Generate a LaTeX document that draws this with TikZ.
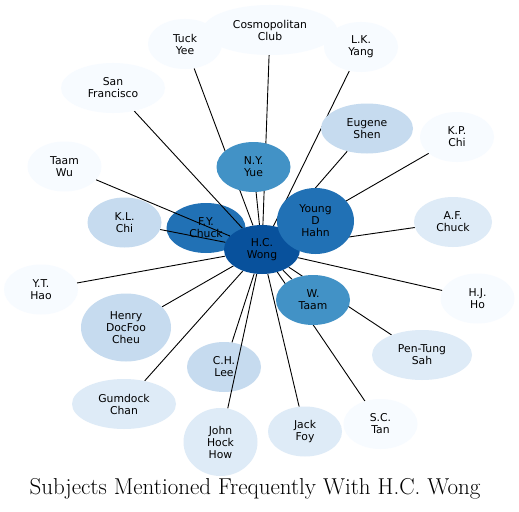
\documentclass[tikz,border=0pt]{standalone}
\usepackage{fontspec}
\newfontfamily\nodefont{DejaVu Sans}
\usetikzlibrary{shapes.geometric}
\definecolor{bA}{HTML}{08519C}
\definecolor{bB}{HTML}{2171B5}
\definecolor{bC}{HTML}{4292C6}
\definecolor{bD}{HTML}{C6DBEF}
\definecolor{bE}{HTML}{DEEBF7}
\definecolor{bF}{HTML}{F7FBFF}
\pgfdeclarelayer{bg}
\pgfdeclarelayer{fg}
\pgfsetlayers{bg,main,fg}
\tikzset{
  nd/.style={ellipse, draw=none, inner sep=0pt, align=center,
    font=\nodefont\fontsize{10.8}{12}\selectfont, text=black},
  sm/.style={nd, minimum width=74pt, minimum height=50pt},
  edge/.style={draw=black, line width=0.9pt}
}
\begin{document}
\begin{tikzpicture}[x=1pt,y=-1pt]
\useasboundingbox (0,0) rectangle (519,511);
\begin{pgfonlayer}{bg}
\fill[white] (0,0) rectangle (519,511);
\node[nd, fill=bB, minimum width=79pt, minimum height=50pt] (fy) at (206,228) {F.Y.\\Chuck};
\node[sm, fill=bD] (ch) at (224,367) {C.H.\\Lee};
\end{pgfonlayer}
\begin{pgfonlayer}{fg}
\node[nd, fill=bF, minimum width=134pt, minimum height=50pt] (cc) at (270,30) {Cosmopolitan\\Club};
\node[sm, fill=bF] (ty) at (185,44) {Tuck\\Yee};
\node[sm, fill=bF] (lk) at (361,47) {L.K.\\Yang};
\node[nd, fill=bF, minimum width=104pt, minimum height=50pt] (sf) at (113,88) {San\\Francisco};
\node[nd, fill=bD, minimum width=92pt, minimum height=50pt] (es) at (367,128.5) {Eugene\\Shen};
\node[sm, fill=bF] (kp) at (457,137) {K.P.\\Chi};
\node[sm, fill=bC] (ny) at (253.5,167) {N.Y.\\Yue};
\node[sm, fill=bF] (tw) at (64.5,166.5) {Taam\\Wu};
\node[sm, fill=bD] (kl) at (124.5,222.5) {K.L.\\Chi};
\node[nd, fill=bE, minimum width=78pt, minimum height=50pt] (af) at (453,222) {A.F.\\Chuck};
\node[nd, fill=bA, minimum width=76pt, minimum height=49pt] (hc) at (262,249.5) {H.C.\\Wong};
\node[nd, fill=bB, minimum width=77pt, minimum height=66pt] (yd) at (315.5,221) {Young\\D\\Hahn};
\node[sm, fill=bF] (yt) at (41,289.5) {Y.T.\\Hao};
\node[sm, fill=bF] (hj) at (477.5,298.5) {H.J.\\Ho};
\node[sm, fill=bC] (wt) at (313,300) {W.\\Taam};
\node[nd, fill=bD, minimum width=90pt, minimum height=68pt] (hd) at (126,327.5) {Henry\\DocFoo\\Cheu};
\node[nd, fill=bE, minimum width=100pt, minimum height=50pt] (pt) at (422,355) {Pen-Tung\\Sah};
\node[nd, fill=bE, minimum width=104pt, minimum height=50pt] (gc) at (124,404) {Gumdock\\Chan};
\node[nd, fill=bE, minimum width=74pt, minimum height=68pt] (jh) at (220.5,442) {John\\Hock\\How};
\node[sm, fill=bE] (jf) at (305,431.5) {Jack\\Foy};
\node[sm, fill=bF] (st) at (380.5,424) {S.C.\\Tan};
\end{pgfonlayer}
\foreach \t in {cc,ty,lk,sf,es,kp,ny,tw,kl,fy,af,yd,yt,hj,wt,hd,pt,ch,gc,jh,jf,st}
  \draw[edge] (hc) -- (\t);
\node (title) at (255,489) {\fontsize{23}{26}\selectfont Subjects Mentioned Frequently With H.C. Wong};
\end{tikzpicture}
\end{document}
